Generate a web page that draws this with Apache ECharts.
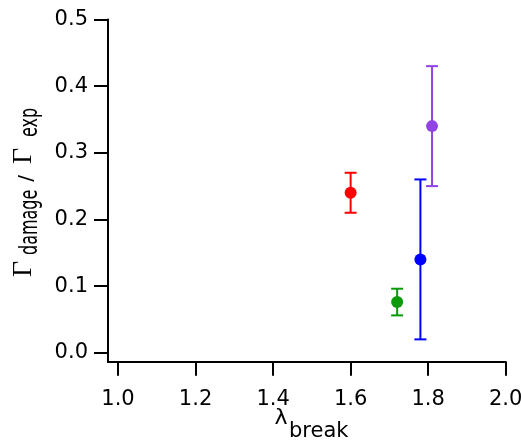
<!DOCTYPE html>
<html><head><meta charset="utf-8">
<script src="https://cdn.jsdelivr.net/npm/echarts@6/dist/echarts.min.js"></script>
<style>html,body{margin:0;padding:0;background:#fff}#c{width:521px;height:441px}</style>
</head><body><div id="c"></div>
<script>
// ---- data ----
const xValues = [1.60, 1.72, 1.78, 1.81];
const yValues = [0.24, 0.076, 0.14, 0.34];
const yLower  = [0.21, 0.056, 0.02, 0.25];
const yUpper  = [0.27, 0.096, 0.26, 0.43];
const xTickLabels = ['1.0', '1.2', '1.4', '1.6', '1.8', '2.0'];
const yTickLabels = ['0.0', '0.1', '0.2', '0.3', '0.4', '0.5'];

// ---- styles ----
const pointColors = ['#ff0000', '#0a9a0a', '#0000ff', '#9143e3'];
const sans = 'DejaVu Sans';
const serif = 'Liberation Serif';

const chart = echarts.init(document.getElementById('c'), null, { renderer: 'canvas' });

const points = xValues.map((x, i) => ({ value: [x, yValues[i]], itemStyle: { color: pointColors[i], opacity: 1 } }));
const bars = xValues.map((x, i) => ({ value: [x, yLower[i], yUpper[i]] }));

function rotText(text, x, y, size, family, sy, align) {
  return {
    type: 'text', x: x, y: y, rotation: Math.PI / 2, scaleX: 1, scaleY: sy || 1,
    style: { text: text, fontSize: size, fontFamily: family, fill: '#000', align: align || 'left', verticalAlign: 'middle' }
  };
}

const option = {
  backgroundColor: '#fff',
  animation: false,
  grid: { left: 118, right: 15.3, top: 19.5, bottom: 88.3, outerBoundsMode: 'none', containLabel: false },
  xAxis: {
    type: 'value', min: 1, max: 2, interval: 0.2, offset: 9,
    axisLine: { show: true, onZero: false, lineStyle: { color: '#000', width: 2 } },
    axisTick: { show: true, length: 14, lineStyle: { color: '#000', width: 2 } },
    axisLabel: {
      show: true, margin: 27, fontFamily: sans, fontSize: 21, color: '#000', hideOverlap: false,
      formatter: v => xTickLabels[Math.round((v - 1) / 0.2)]
    },
    splitLine: { show: false }
  },
  yAxis: {
    type: 'value', min: 0, max: 0.5, interval: 0.1, offset: 10,
    axisLine: { show: true, onZero: false, lineStyle: { color: '#000', width: 2 } },
    axisTick: { show: true, length: 14, lineStyle: { color: '#000', width: 2 } },
    axisLabel: {
      show: true, margin: 20, fontFamily: sans, fontSize: 21, color: '#000', hideOverlap: false,
      formatter: v => yTickLabels[Math.round(v / 0.1)]
    },
    splitLine: { show: false }
  },
  series: [
    {
      type: 'custom', z: 2, data: bars, clip: false,
      renderItem: function (params, api) {
        const x = api.value(0), lo = api.value(1), hi = api.value(2);
        const pLo = api.coord([x, lo]), pHi = api.coord([x, hi]);
        const c = pointColors[params.dataIndex];
        const w = 6;
        const st = { stroke: c, lineWidth: 2, fill: null };
        return {
          type: 'group', children: [
            { type: 'line', shape: { x1: pLo[0], y1: pLo[1], x2: pHi[0], y2: pHi[1] }, style: st },
            { type: 'line', shape: { x1: pLo[0] - w, y1: pLo[1], x2: pLo[0] + w, y2: pLo[1] }, style: st },
            { type: 'line', shape: { x1: pHi[0] - w, y1: pHi[1], x2: pHi[0] + w, y2: pHi[1] }, style: st }
          ]
        };
      }
    },
    {
      type: 'scatter', z: 3, symbol: 'circle', symbolSize: 12, data: points,
      itemStyle: { opacity: 1 }, emphasis: { disabled: true }
    }
  ],
  graphic: [
    { type: 'polyline', shape: { points: [[108, 352], [108, 362], [118, 362]] },
      style: { stroke: '#000', lineWidth: 2, fill: null, lineJoin: 'miter' } },
    { type: 'text', x: 274.5, y: 418.5, style: { text: 'λ', fontSize: 22, fontFamily: sans, fill: '#000', align: 'left', verticalAlign: 'middle' } },
    { type: 'text', x: 289, y: 432, style: { text: 'break', fontSize: 21, fontFamily: sans, fill: '#000', align: 'left', verticalAlign: 'middle' } },
    rotText('Γ', 23.5, 277, 28, serif),
    rotText('damage', 31, 255, 16, sans, 1.5),
    rotText('/', 27, 178.5, 20, sans, 1, 'center'),
    rotText('Γ', 23.5, 164, 28, serif),
    rotText('exp', 31, 137, 16, sans, 1.5)
  ]
};
chart.setOption(option);
</script>
</body></html>
